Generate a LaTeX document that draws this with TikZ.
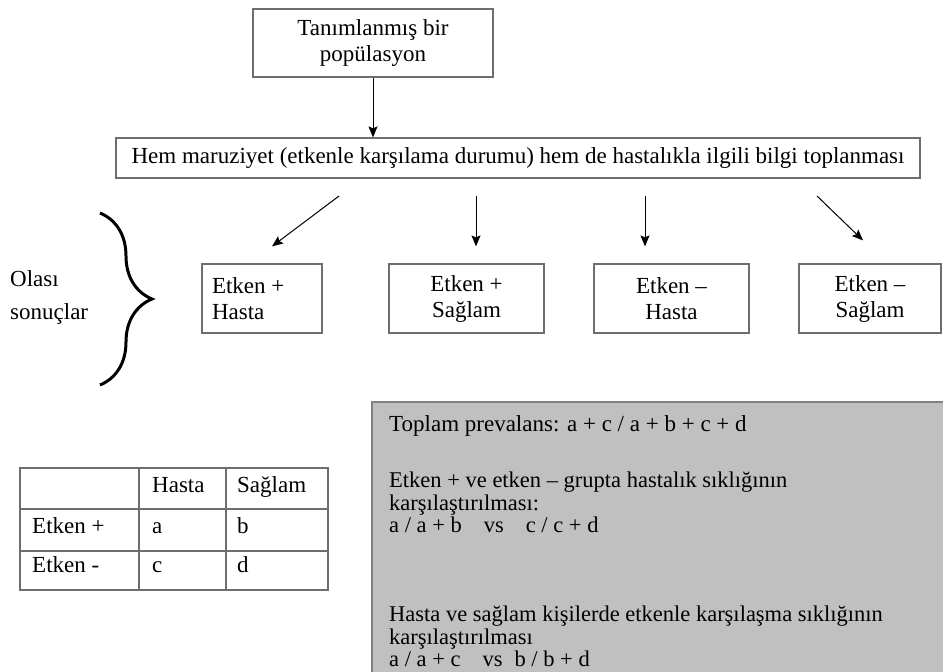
\documentclass[tikz,border=0pt]{standalone}
\usepackage{fontspec}
\setmainfont{Liberation Serif}
\usetikzlibrary{arrows.meta,positioning,calc,decorations.pathreplacing}
\definecolor{panelgray}{HTML}{C0C0C0}
\definecolor{linegray}{HTML}{6E6E6E}
\tikzset{
    box/.style={
        rectangle,
        draw=linegray,
        line width=1.2pt,
        inner sep=2pt,
        font=\fontsize{23}{26}\selectfont,
    },
    outcome/.style={
        box,
        minimum height=69,
        align=center,
    },
    txt/.style={
        inner sep=0pt,
        anchor=west,
        text height=15pt,
        text depth=5pt,
        font=\fontsize{23}{23}\selectfont,
    },
    para/.style={
        inner sep=0pt,
        anchor=north west,
        align=left,
        font=\fontsize{22.5}{22.5}\selectfont,
    },
    arrow/.style={
        -{Stealth[length=11pt,width=9pt,inset=2pt]},
        line width=1pt,
    },
}

\begin{document}
\begin{tikzpicture}[x=1pt,y=-1pt]
    \useasboundingbox (0,0) rectangle (943,672);
    % population and data collection
    \node [box, minimum width=240, minimum height=68, align=center] (pop) at (373,43) {Tanımlanmış bir\\popülasyon};
    \node [box, minimum width=804, minimum height=40] (info) at (518,158) {Hem maruziyet (etkenle karşılama durumu) hem de hastalıkla ilgili bilgi toplanması};
    \draw [arrow] (pop.south) -- (pop.south |- info.north);
    % four outcomes
    \node [outcome, minimum width=120, align=flush left, text width=100] (ehA) at (262,298.5) {Etken +\\Hasta};
    \node [outcome, minimum width=155] (ehB) at (466.5,298.5) {Etken +\\Sağlam};
    \node [outcome, minimum width=155] (ehC) at (671.5,298.5) {Etken –\\Hasta};
    \node [outcome, minimum width=142] (ehD) at (870,298.5) {Etken –\\Sağlam};
    \coordinate (s1) at (339,196);
    \coordinate (s2) at (476,196);
    \coordinate (s3) at (645,196);
    \coordinate (s4) at (817,196);
    \draw [arrow] (s1) -- ($(ehA.north)+(10,-17)$);
    \draw [arrow] (s2) -- ($(s2 |- ehB.north)+(0,-17)$);
    \draw [arrow] (s3) -- ($(s3 |- ehC.north)+(0,-17)$);
    \draw [arrow] (s4) -- ($(ehD.north)+(-7,-23)$);
    % brace
    \draw [line width=3pt, decorate, decoration={brace, amplitude=52}] (100,213) -- (100,385);
    \node [para, anchor=west, font=\fontsize{23}{33}\selectfont] (olasi) at (10,297) {Olası\\sonuçlar};
    % 2x2 table
    \draw [linegray, line width=1.2pt] (20,468) rectangle (328,590);
    \foreach \y in {509,551}
        \draw [linegray, line width=1.2pt] (20,\y) -- (328,\y);
    \foreach \x in {139,226}
        \draw [linegray, line width=1.2pt] (\x,468) -- (\x,590);
    \node [txt] (hasta) at (152,487) {Hasta};
    \node [txt] (saglam) at (237,487) {Sağlam};
    \node [txt] (epos) at (32,528) {Etken +};
    \node [txt] (eneg) at (32,567) {Etken -};
    \node [txt] (ca) at (152,528) {a};
    \node [txt] (cb) at (237,528) {b};
    \node [txt] (cc) at (152,567) {c};
    \node [txt] (cd) at (237,567) {d};
    % summary panel
    \fill [panelgray] (372,402) rectangle (943,672);
    \draw [gray, line width=1.5pt] (943,402) -- (372,402) -- (372,672);
    \node [txt] (prev) at (389,426) {Toplam prevalans: a + c / a + b + c + d};
    \node [para] (grp) at (389,472) {Etken + ve etken – grupta hastalık sıklığının\\karşılaştırılması:\\a / a + b\hspace{22pt}vs\hspace{22pt}c / c + d};
    \node [para] (kis) at (389,606) {Hasta ve sağlam kişilerde etkenle karşılaşma sıklığının\\karşılaştırılması\\a / a + c\hspace{22pt}vs\hspace{12pt}b / b + d};
\end{tikzpicture}
\end{document}
